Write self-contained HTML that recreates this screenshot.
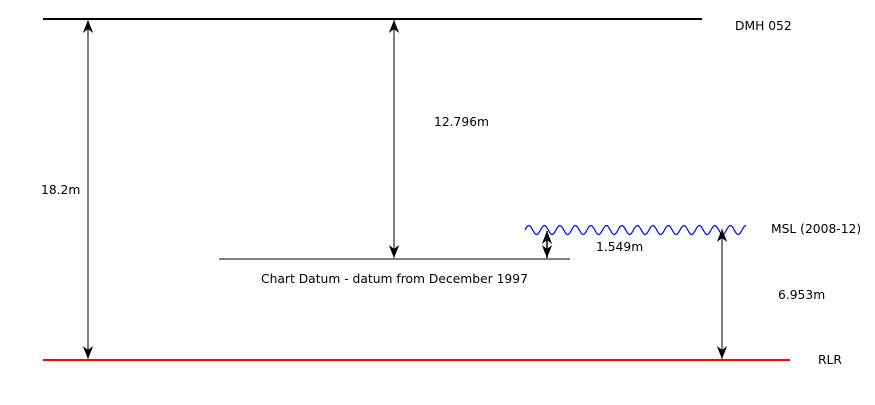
<!DOCTYPE html>
<html><head><style>
body{margin:0;background:#fff;}
svg text{font-family:"DejaVu Sans","Liberation Sans",sans-serif;font-size:12.3px;fill:#000;}
</style></head><body>
<svg width="875" height="400" viewBox="0 0 875 400">
<defs>
<marker id="ah" viewBox="0 0 10 10" refX="10" refY="5" markerWidth="13" markerHeight="13" markerUnits="userSpaceOnUse" orient="auto-start-reverse">
<path d="M0,1 L10,5 L0,9 L3,5 Z" fill="#000"/>
</marker>
</defs>
<line x1="43" y1="19" x2="702" y2="19" stroke="#000" stroke-width="2"/>
<text x="735" y="30">DMH 052</text>
<line x1="43" y1="360" x2="790" y2="360" stroke="#f00" stroke-width="2"/>
<text x="818" y="364">RLR</text>
<line x1="219" y1="259" x2="570" y2="259" stroke="#000" stroke-width="1"/>
<text x="261" y="283">Chart Datum - datum from December 1997</text>
<path id="wave" fill="none" stroke="#00f" stroke-width="1.2" d=""/>
<text x="771" y="233">MSL (2008-12)</text>
<line x1="88" y1="20" x2="88" y2="359" stroke="#000" marker-start="url(#ah)" marker-end="url(#ah)"/>
<text x="41" y="194">18.2m</text>
<line x1="394" y1="20" x2="394" y2="258" stroke="#000" marker-start="url(#ah)" marker-end="url(#ah)"/>
<text x="434" y="126">12.796m</text>
<line x1="547" y1="231" x2="547" y2="258" stroke="#000" stroke-width="1.5" marker-start="url(#ah)" marker-end="url(#ah)"/>
<text x="596" y="251">1.549m</text>
<line x1="722" y1="229" x2="722" y2="359" stroke="#000" marker-start="url(#ah)" marker-end="url(#ah)"/>
<text x="778" y="299">6.953m</text>
</svg>
<script>
var d="M525,230";
for(var x=525;x<=746;x+=1){d+=" L"+x+","+(230-4.5*Math.sin((x-525)/15.5*2*Math.PI)).toFixed(2);}
document.getElementById('wave').setAttribute('d',d);
</script>
</body></html>
